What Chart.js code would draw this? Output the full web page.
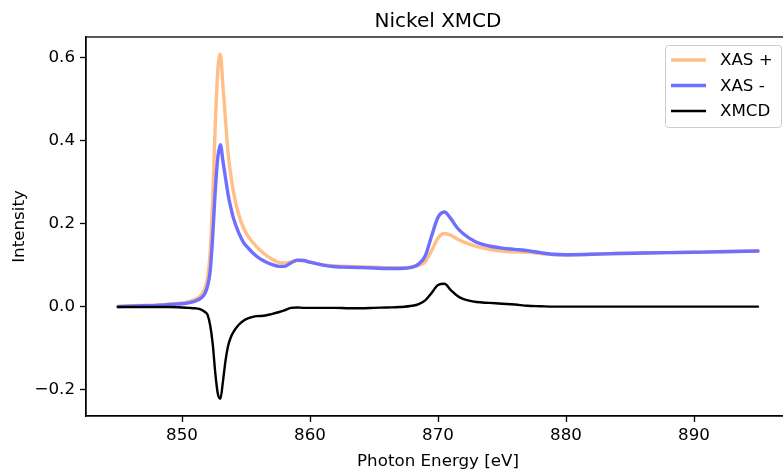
<!DOCTYPE html>
<html>
<head>
<meta charset="utf-8">
<script src="https://cdn.jsdelivr.net/npm/chart.js@4/dist/chart.umd.min.js"></script>
<style>
  html, body { margin: 0; padding: 0; background: #fff; overflow: hidden; }
  #wrap { position: relative; width: 800px; height: 471px; }
</style>
</head>
<body>
<div id="wrap"><canvas id="c"></canvas></div>
<script>
// Photon energy grid (eV) and the three spectra
const ENERGY = [845, 846, 847, 848, 849, 850, 850.5, 851, 851.5, 851.8, 852.0, 852.2, 852.4, 852.6, 852.8, 853.0,
  853.2, 853.4, 853.6, 853.8, 854.0, 854.4, 854.8, 855.2, 855.8, 856.4, 857.0, 857.6, 858.0, 858.5, 859.0, 859.5,
  860.0, 861, 862, 863, 864, 865, 866, 867, 868, 868.5, 869, 869.5, 870.0, 870.5, 871.0, 871.5, 872, 873, 874,
  875, 876, 877, 878, 879, 880, 882, 884, 886, 888, 890, 892, 895];

const XAS_PLUS = [0.001, 0.002, 0.003, 0.004, 0.006, 0.009, 0.012, 0.017, 0.028, 0.045, 0.07, 0.13, 0.26, 0.44, 0.57, 0.608,
  0.53, 0.45, 0.37, 0.32, 0.28, 0.225, 0.19, 0.168, 0.145, 0.128, 0.115, 0.106, 0.105, 0.108, 0.111, 0.111,
  0.107, 0.101, 0.098, 0.097, 0.096, 0.095, 0.094, 0.093, 0.095, 0.099, 0.108, 0.135, 0.165, 0.176, 0.172, 0.163, 0.156, 0.145, 0.138,
  0.134, 0.132, 0.131, 0.128, 0.125, 0.124, 0.126, 0.128, 0.129, 0.130, 0.131, 0.132, 0.134];

const XAS_MINUS = [0.0, 0.001, 0.002, 0.003, 0.005, 0.007, 0.009, 0.013, 0.021, 0.032, 0.05, 0.085, 0.17, 0.28, 0.36, 0.39,
  0.35, 0.31, 0.27, 0.24, 0.215, 0.18, 0.155, 0.14, 0.122, 0.11, 0.102, 0.097, 0.097, 0.105, 0.112, 0.111,
  0.107, 0.100, 0.096, 0.095, 0.094, 0.093, 0.092, 0.092, 0.095, 0.103, 0.122, 0.17, 0.215, 0.228, 0.212, 0.19, 0.175, 0.155, 0.146,
  0.141, 0.138, 0.135, 0.130, 0.126, 0.125, 0.126, 0.128, 0.129, 0.130, 0.131, 0.132, 0.134];

const XMCD = [-0.001, -0.001, -0.001, -0.001, -0.001, -0.002, -0.003, -0.004, -0.007, -0.013, -0.02, -0.045, -0.09, -0.16, -0.21, -0.222,
  -0.18, -0.13, -0.095, -0.075, -0.062, -0.045, -0.034, -0.028, -0.023, -0.022, -0.018, -0.013, -0.009, -0.003, -0.002, -0.003,
  -0.003, -0.003, -0.003, -0.004, -0.004, -0.003, -0.002, -0.001, 0.002, 0.006, 0.015, 0.033, 0.052, 0.055, 0.04, 0.026, 0.018, 0.011, 0.009,
  0.007, 0.005, 0.002, 0.001, 0.0, 0.0, 0.0, 0.0, 0.0, 0.0, 0.0, 0.0, 0.0];

const X_TICKS = [850, 860, 870, 880, 890];
const Y_TICKS = [-0.2, 0.0, 0.2, 0.4, 0.6];

const FONT = "'DejaVu Sans', sans-serif";
const C_PLUS = "#ffbf87";
const C_MINUS = "#6e6eff";
const C_XMCD = "#000000";

function pts(ys) {
  return ENERGY.map(function (x, i) { return { x: x, y: ys[i] }; });
}

// frame, title, axis labels and a matplotlib-like legend
const decor = {
  id: "decor",
  afterDraw: function (chart) {
    const ctx = chart.ctx;
    const a = chart.chartArea;
    ctx.save();
    ctx.strokeStyle = "#000";
    ctx.lineWidth = 1.3;
    ctx.strokeRect(a.left, a.top, a.right - a.left, a.bottom - a.top);

    ctx.fillStyle = "#000";
    ctx.textAlign = "center";
    ctx.textBaseline = "alphabetic";
    ctx.font = "20px " + FONT;
    ctx.fillText("Nickel XMCD", (a.left + a.right) / 2, 27);

    ctx.font = "16.7px " + FONT;
    ctx.fillText("Photon Energy [eV]", (a.left + a.right) / 2, 466);

    ctx.save();
    ctx.translate(24, (a.top + a.bottom) / 2);
    ctx.rotate(-Math.PI / 2);
    ctx.fillText("Intensity", 0, 0);
    ctx.restore();

    // legend box
    const bx = 665.5, by = 45.5, bw = 116, bh = 82;
    ctx.beginPath();
    ctx.roundRect(bx, by, bw, bh, 3);
    ctx.fillStyle = "rgba(255,255,255,0.8)";
    ctx.fill();
    ctx.strokeStyle = "#cccccc";
    ctx.lineWidth = 1;
    ctx.stroke();

    const items = [
      { label: "XAS +", color: C_PLUS, w: 3.4, y: 60 },
      { label: "XAS -", color: C_MINUS, w: 3.4, y: 85.5 },
      { label: "XMCD", color: C_XMCD, w: 2.4, y: 111 },
    ];
    ctx.textAlign = "left";
    ctx.textBaseline = "middle";
    ctx.font = "16.7px " + FONT;
    items.forEach(function (it) {
      ctx.beginPath();
      ctx.moveTo(671, it.y);
      ctx.lineTo(706, it.y);
      ctx.strokeStyle = it.color;
      ctx.lineWidth = it.w;
      ctx.stroke();
      ctx.fillStyle = "#000";
      ctx.fillText(it.label, 720, it.y + 1);
    });
    ctx.restore();
  },
};

new Chart(document.getElementById("c"), {
  type: "line",
  data: {
    datasets: [
      { label: "XMCD", data: pts(XMCD), borderColor: C_XMCD, borderWidth: 2.4, order: 0 },
      { label: "XAS -", data: pts(XAS_MINUS), borderColor: C_MINUS, borderWidth: 3.4, order: 1 },
      { label: "XAS +", data: pts(XAS_PLUS), borderColor: C_PLUS, borderWidth: 3.4, order: 2 },
    ],
  },
  options: {
    responsive: true,
    maintainAspectRatio: false,
    devicePixelRatio: 1,
    animation: false,
    events: [],
    layout: { padding: { top: 37, right: 10, left: 0, bottom: 0 } },
    elements: {
      point: { radius: 0 },
      line: { cubicInterpolationMode: "monotone", fill: false, borderCapStyle: "round", borderJoinStyle: "round" },
    },
    plugins: {
      legend: { display: false },
      title: { display: false },
      tooltip: { enabled: false },
    },
    scales: {
      x: {
        type: "linear",
        min: 842.5,
        max: 897.5,
        afterBuildTicks: function (s) { s.ticks = X_TICKS.map(function (v) { return { value: v }; }); },
        afterFit: function (s) { s.height = 55; },
        border: { display: true, color: "#000", width: 1.3 },
        grid: { display: true, drawOnChartArea: false, drawTicks: true, tickLength: 6, tickWidth: 1.3, tickColor: "#000" },
        ticks: {
          color: "#000",
          font: { family: FONT, size: 16.7 },
          padding: 4,
          maxRotation: 0,
          autoSkip: false,
          callback: function (v) { return String(v); },
        },
      },
      y: {
        type: "linear",
        min: -0.2635,
        max: 0.6495,
        afterBuildTicks: function (s) { s.ticks = Y_TICKS.map(function (v) { return { value: v }; }); },
        afterFit: function (s) { s.width = 86; },
        border: { display: true, color: "#000", width: 1.3 },
        grid: { display: true, drawOnChartArea: false, drawTicks: true, tickLength: 6, tickWidth: 1.3, tickColor: "#000" },
        ticks: {
          color: "#000",
          font: { family: FONT, size: 16.7 },
          padding: 5,
          autoSkip: false,
          callback: function (v) { return v.toFixed(1).replace("-", "\u2212"); },
        },
      },
    },
  },
  plugins: [decor],
});
</script>
</body>
</html>
